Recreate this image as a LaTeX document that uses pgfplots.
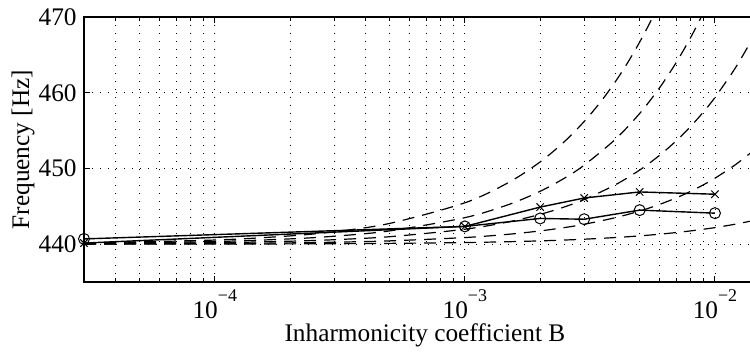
\documentclass[border=0pt]{standalone}
\usepackage{fontspec}
\setmainfont{Liberation Serif}
\usepackage{pgfplots}
\pgfplotsset{compat=1.18}
\usetikzlibrary{calc}
\newcommand{\mainfont}{\fontsize{12.7}{14}\selectfont}
\newcommand{\tenpow}[1]{10\raisebox{0.66em}{\fontsize{9}{9}\selectfont\textminus#1}}
\begin{document}
\begin{tikzpicture}[font=\mainfont]
\begin{axis}[name=a, scale only axis, width=337.4bp, height=132.5bp,
  xmode=log, xmin=3e-5, xmax=1.5e-2, ymin=435, ymax=470,
  ytick={440,450,460,470}, yticklabels={440,450,460,470},
  xtick={1e-4,1e-3,1e-2}, xticklabels={\tenpow{4},\tenpow{3},\tenpow{2}},
  minor xtick={4e-5,5e-5,6e-5,7e-5,8e-5,9e-5,2e-4,3e-4,4e-4,5e-4,6e-4,7e-4,8e-4,9e-4,2e-3,3e-3,4e-3,5e-3,6e-3,7e-3,8e-3,9e-3},
  grid=both,
  major grid style={black, line width=0.4bp, dash pattern=on 0.6bp off 3.4bp},
  minor grid style={black, line width=0.4bp, dash pattern=on 0.6bp off 3.4bp},
  tick align=inside, major tick length=3bp, minor tick length=1.8bp,
  every tick/.style={black, line width=0.5bp},
  axis line style={line width=0.9bp},
  tick label style={font=\mainfont},
  label style={font=\mainfont},
  yticklabel style={anchor=east, xshift=-1bp, inner sep=2.5bp},
  xticklabel style={anchor=base, yshift=-18bp, inner sep=0pt},
  xlabel={Inharmonicity coefficient B},
  ylabel={Frequency [Hz]},
  xlabel style={at={(axis description cs:0.505,-0.2226)}, anchor=base, inner sep=0pt},
  ylabel style={at={(axis description cs:-0.0904,0.5)}, anchor=center, rotate=0},
  clip mode=individual,
]
% dashed curves
\addplot[black, line width=0.6bp, dash pattern=on 6bp off 4bp, smooth] coordinates {
(3e-5,440.007)(1e-4,440.022)(2e-4,440.044)(3e-4,440.066)(5e-4,440.110)(1e-3,440.22)(1.5e-3,440.33)(2e-3,440.44)(2.5e-3,440.55)(3e-3,440.66)(4e-3,440.88)(5e-3,441.10)(6e-3,441.32)(7e-3,441.54)(8e-3,441.76)(9e-3,441.98)(1e-2,442.19)(1.2e-2,442.63)(1.4e-2,443.07)};
\addplot[black, line width=0.6bp, dash pattern=on 6bp off 4bp, smooth] coordinates {
(3e-5,440.026)(1e-4,440.088)(2e-4,440.176)(3e-4,440.264)(5e-4,440.440)(1e-3,440.879)(1.5e-3,441.318)(2e-3,441.756)(2.5e-3,442.194)(3e-3,442.632)(4e-3,443.506)(5e-3,444.378)(6e-3,445.249)(7e-3,446.117)(8e-3,446.984)(9e-3,447.850)(1e-2,448.714)(1.2e-2,450.436)(1.4e-2,452.152)};
\addplot[black, line width=0.6bp, dash pattern=on 6bp off 4bp, smooth] coordinates {
(3e-5,440.059)(1e-4,440.198)(2e-4,440.396)(3e-4,440.594)(5e-4,440.989)(1e-3,441.976)(1.5e-3,442.960)(2e-3,443.942)(2.5e-3,444.922)(3e-3,445.900)(4e-3,447.850)(5e-3,449.791)(6e-3,451.724)(7e-3,453.648)(8e-3,455.565)(9e-3,457.473)(1e-2,459.374)(1.2e-2,463.151)(1.4e-2,466.898)};
\addplot[black, line width=0.6bp, dash pattern=on 6bp off 4bp, smooth] coordinates {
(3e-5,440.106)(1e-4,440.352)(2e-4,440.703)(3e-4,441.055)(5e-4,441.756)(1e-3,443.506)(1.5e-3,445.249)(2e-3,446.984)(2.5e-3,448.714)(3e-3,450.436)(4e-3,453.862)(5e-3,457.261)(6e-3,460.636)(7e-3,463.986)(8e-3,467.312)(9e-3,470.615)(1e-2,473.895)};
\addplot[black, line width=0.6bp, dash pattern=on 6bp off 4bp, smooth] coordinates {
(3e-5,440.165)(1e-4,440.550)(2e-4,441.099)(3e-4,441.647)(5e-4,442.742)(1e-3,445.466)(1.5e-3,448.174)(2e-3,450.866)(2.5e-3,453.541)(3e-3,456.202)(3.5e-3,458.847)(4e-3,461.476)(4.5e-3,464.090)(5e-3,466.690)(5.5e-3,469.276)(6e-3,471.848)(7e-3,476.949)};
% measured series
\addplot[black, line width=0.7bp, mark=o, mark size=2.75bp, mark options={line width=0.5bp}] coordinates {
(3e-5,440.7)(1e-3,442.35)(2e-3,443.4)(3e-3,443.3)(5e-3,444.5)(1e-2,444.1)};
\addplot[black, line width=0.7bp, mark=x, mark size=2.6bp, mark options={line width=0.5bp}] coordinates {
(3e-5,440.15)(1e-3,442.35)(2e-3,444.9)(3e-3,446.1)(5e-3,446.9)(1e-2,446.6)};
\end{axis}
\pgfresetboundingbox
\path[use as bounding box] ($(a.south west)+(-42bp,-35.5bp)$) rectangle ($(a.south west)+(332.9bp,141bp)$);
\end{tikzpicture}
\end{document}
